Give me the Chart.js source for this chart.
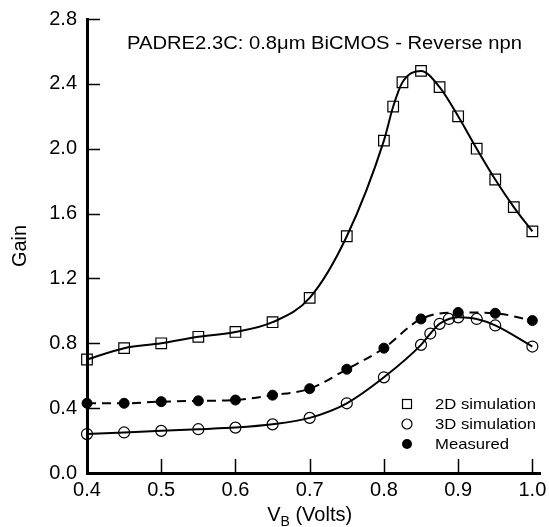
<!DOCTYPE html>
<html>
<head>
<meta charset="utf-8">
<script src="https://cdn.jsdelivr.net/npm/chart.js@4.4.1/dist/chart.umd.min.js"></script>
<style>
    html, body { margin: 0; padding: 0; background: #fff; }
    #wrap { width: 549px; height: 527px; }
</style>
</head>
<body>
<div id="wrap"><canvas id="gainChart"></canvas></div>
<script>
// Base voltage (V) and gain for each series
const vb2D = [0.40, 0.45, 0.50, 0.55, 0.60, 0.65, 0.70, 0.75, 0.80, 0.8125, 0.825, 0.85, 0.875, 0.90, 0.925, 0.95, 0.975, 1.00];
const gain2D = [0.70, 0.77, 0.80, 0.84, 0.87, 0.93, 1.08, 1.46, 2.05, 2.26, 2.41, 2.48, 2.38, 2.20, 2.00, 1.81, 1.64, 1.49];

const vb3D = [0.40, 0.45, 0.50, 0.55, 0.60, 0.65, 0.70, 0.75, 0.80, 0.85, 0.8625, 0.875, 0.8875, 0.90, 0.925, 0.95, 1.00];
const gain3D = [0.24, 0.25, 0.26, 0.27, 0.28, 0.30, 0.34, 0.43, 0.59, 0.79, 0.86, 0.92, 0.95, 0.96, 0.95, 0.91, 0.78];

const vbMeas = [0.40, 0.45, 0.50, 0.55, 0.60, 0.65, 0.70, 0.75, 0.80, 0.85, 0.90, 0.95, 1.00];
const gainMeas = [0.43, 0.43, 0.44, 0.445, 0.45, 0.48, 0.52, 0.64, 0.77, 0.95, 0.99, 0.985, 0.94];

const xTicks = [0.4, 0.5, 0.6, 0.7, 0.8, 0.9, 1.0];
const yTicks = [0.0, 0.4, 0.8, 1.2, 1.6, 2.0, 2.4, 2.8];

const seriesNames = ['2D simulation', '3D simulation', 'Measured'];
const titleText = 'PADRE2.3C: 0.8\u03bcm BiCMOS - Reverse npn';

const FONT = '"Liberation Sans", Arial, Helvetica, sans-serif';
Chart.defaults.font.family = FONT;
Chart.defaults.color = '#000';

const toPoints = (xs, ys) => xs.map((v, i) => ({ x: v, y: ys[i] }));

// draws inward ticks, title, legend and the x axis label (with subscript)
const extras = {
    id: 'extras',
    afterDraw(chart) {
        const { ctx, chartArea: a, scales: { x, y } } = chart;
        ctx.save();
        ctx.strokeStyle = '#000';
        ctx.lineWidth = 1.5;
        ctx.beginPath();
        yTicks.forEach(v => {
            if (v === 0) return;
            const py = Math.round(y.getPixelForValue(v)) + 0.5;
            ctx.moveTo(a.left, py);
            ctx.lineTo(a.left + 13, py);
        });
        xTicks.forEach(v => {
            if (v === 0.4) return;
            const px = Math.round(x.getPixelForValue(v)) + 0.5;
            ctx.moveTo(px, a.bottom);
            ctx.lineTo(px, a.bottom - 14);
        });
        ctx.stroke();

        ctx.fillStyle = '#000';
        ctx.textBaseline = 'alphabetic';

        // title
        ctx.font = '18px ' + FONT;
        let w = ctx.measureText(titleText).width;
        ctx.save();
        ctx.translate(127, 49);
        ctx.scale(395 / w, 1);
        ctx.fillText(titleText, 0, 0);
        ctx.restore();

        // legend
        ctx.font = '15px ' + FONT;
        const sx = 101 / ctx.measureText(seriesNames[0]).width;
        const rows = [404, 424, 444];
        const mx = 407;
        ctx.lineWidth = 1.2;
        rows.forEach((ry, i) => {
            ctx.beginPath();
            if (i === 0) {
                ctx.strokeRect(mx - 4.5, ry - 4.5, 9, 9);
            } else if (i === 1) {
                ctx.arc(mx, ry, 5, 0, Math.PI * 2);
                ctx.stroke();
            } else {
                ctx.arc(mx, ry, 5, 0, Math.PI * 2);
                ctx.fill();
            }
            ctx.save();
            ctx.translate(435, ry + 5);
            ctx.scale(sx, 1);
            ctx.fillText(seriesNames[i], 0, 0);
            ctx.restore();
        });

        // x axis title: V_B (Volts)
        ctx.font = '20px ' + FONT;
        const vW = ctx.measureText('V').width;
        ctx.font = '14px ' + FONT;
        const bW = ctx.measureText('B').width;
        ctx.font = '20px ' + FONT;
        const rest = ' (Volts)';
        const total = vW + bW + ctx.measureText(rest).width;
        const cx = (a.left + x.getPixelForValue(1.0)) / 2;
        let tx = cx - total / 2;
        ctx.fillText('V', tx, 521);
        ctx.font = '14px ' + FONT;
        ctx.fillText('B', tx + vW, 526);
        ctx.font = '20px ' + FONT;
        ctx.fillText(rest, tx + vW + bW, 521);
        ctx.restore();
    }
};

const ctx = document.getElementById('gainChart');
new Chart(ctx, {
    type: 'line',
    data: {
        datasets: [
            {
                label: seriesNames[0],
                data: toPoints(vb2D, gain2D),
                borderColor: '#000',
                borderWidth: 2,
                pointStyle: 'rect',
                pointRadius: 7.5,
                pointBorderWidth: 1.2,
                pointBorderColor: '#000',
                pointBackgroundColor: 'rgba(0,0,0,0)',
                cubicInterpolationMode: 'monotone',
                clip: false
            },
            {
                label: seriesNames[1],
                data: toPoints(vb3D, gain3D),
                borderColor: '#000',
                borderWidth: 2,
                pointStyle: 'circle',
                pointRadius: 5.5,
                pointBorderWidth: 1.2,
                pointBorderColor: '#000',
                pointBackgroundColor: 'rgba(0,0,0,0)',
                cubicInterpolationMode: 'monotone',
                clip: false
            },
            {
                label: seriesNames[2],
                data: toPoints(vbMeas, gainMeas),
                borderColor: '#000',
                borderWidth: 2,
                borderDash: [9, 6],
                pointStyle: 'circle',
                pointRadius: 5,
                pointBorderWidth: 1,
                pointBorderColor: '#000',
                pointBackgroundColor: '#000',
                cubicInterpolationMode: 'monotone',
                clip: false
            }
        ]
    },
    options: {
        responsive: true,
        maintainAspectRatio: false,
        animation: false,
        layout: { padding: { top: 19, right: 5, left: 0, bottom: 0 } },
        plugins: {
            legend: { display: false },
            tooltip: { enabled: false }
        },
        scales: {
            x: {
                type: 'linear',
                min: 0.4,
                max: 1.0107,
                z: 1,
                afterBuildTicks: s => { s.ticks = xTicks.map(v => ({ value: v })); },
                afterFit: s => { s.height = 54; s.paddingLeft = 0; s.paddingRight = 0; },
                grid: { drawOnChartArea: false, drawTicks: false },
                border: { color: '#000', width: 3 },
                ticks: {
                    padding: 5,
                    font: { size: 20 },
                    color: '#000',
                    maxRotation: 0,
                    callback: v => v.toFixed(1)
                }
            },
            y: {
                min: 0,
                max: 2.8,
                z: 1,
                afterBuildTicks: s => { s.ticks = yTicks.map(v => ({ value: v })); },
                afterFit: s => { s.width = 87; s.paddingTop = 0; s.paddingBottom = 0; },
                grid: { drawOnChartArea: false, drawTicks: false },
                border: { color: '#000', width: 3 },
                title: {
                    display: true,
                    text: 'Gain',
                    font: { size: 20 },
                    color: '#000',
                    padding: { top: 8, bottom: 0 }
                },
                ticks: {
                    padding: 10,
                    font: { size: 20 },
                    color: '#000',
                    callback: v => v.toFixed(1)
                }
            }
        }
    },
    plugins: [extras]
});
</script>
</body>
</html>
